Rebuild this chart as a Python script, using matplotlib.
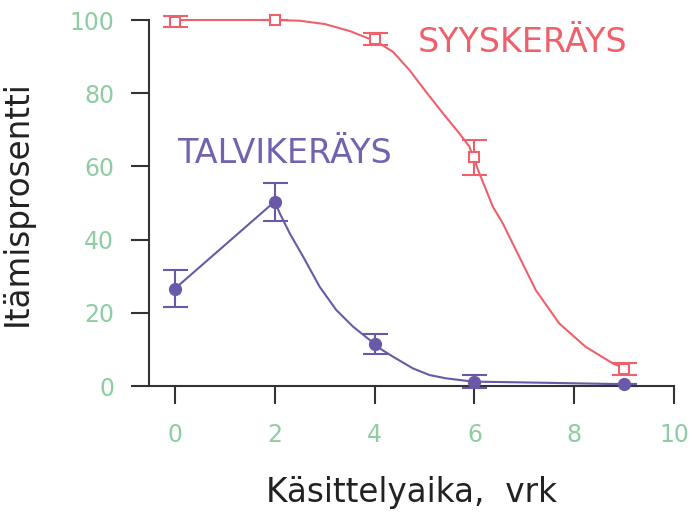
import matplotlib
matplotlib.use("Agg")
import matplotlib.pyplot as plt

plt.rcParams['font.family'] = ['DejaVu Sans']

RED = '#f0606a'
PURPLE = '#6a58a8'
GREEN = '#8ecda2'
DARK = '#333333'

# measured germination, autumn collection
syys_x = [0, 2, 4, 6, 9]
syys_y = [99.5, 100, 94.8, 62.5, 4.7]
syys_err = [1.5, 0, 1.6, 4.8, 1.7]
# fitted curve, autumn collection
syys_cx = [0, 1, 2, 2.5, 3, 3.5, 4, 4.1, 4.37, 4.7, 5.03, 5.37, 5.7, 5.9,
           6.1, 6.37, 6.57, 6.9, 7.23, 7.7, 8.23, 8.77, 9]
syys_cy = [100, 100, 100, 99.8, 98.9, 97.0, 94.3, 93.6, 91.3, 86.3, 80.4, 74.5, 69.0, 65.4,
           58.1, 49.0, 44.4, 35.3, 26.2, 17.1, 10.7, 6.2, 4.9]

# measured germination, winter collection
talvi_x = [0, 2, 4, 6, 9]
talvi_y = [26.6, 50.4, 11.5, 1.2, 0.5]
talvi_err = [5.0, 5.2, 2.8, 1.8, 0]
# fitted curve, winter collection
talvi_cx = [0, 2, 2.1, 2.3, 2.57, 2.9, 3.23, 3.57, 3.9, 4, 4.1, 4.37, 4.77, 5.1, 5.43,
            5.97, 6.9, 9]
talvi_cy = [26.6, 50.4, 47.2, 41.7, 35.3, 27.1, 20.8, 16.2, 12.6, 11.4, 10.3, 8.0, 4.8, 3.0, 2.1,
            1.2, 1.0, 0.5]

fig = plt.figure(figsize=(6.92, 5.13), dpi=100)
ax = fig.add_axes([149/692, 1 - 386/513, 525/692, 366/513])

ax.plot(syys_cx, syys_cy, color=RED, lw=1.5, clip_on=False, zorder=2)
ax.plot(talvi_cx, talvi_cy, color=PURPLE, lw=1.5, clip_on=False, zorder=2)

ax.errorbar(syys_x, syys_y, yerr=syys_err, fmt='s', ms=7, mfc='white', mec=RED, mew=1.5,
            ecolor=RED, elinewidth=1.5, capsize=9, capthick=1.5, clip_on=False, zorder=3)
ax.errorbar(talvi_x, talvi_y, yerr=talvi_err, fmt='o', ms=8.5, mfc=PURPLE, mec=PURPLE,
            ecolor=PURPLE, elinewidth=1.5, capsize=9, capthick=1.5, clip_on=False, zorder=3)

ax.text(4.86, 91.3, 'SYYSKERÄYS', color=RED, fontsize=24, ha='left', va='baseline')
ax.text(0.04, 60.9, 'TALVIKERÄYS', color='#7462b0', fontsize=24, ha='left', va='baseline')

ax.set_xlim(-0.52, 10)
ax.set_ylim(0, 100)
ax.set_xticks([0, 2, 4, 6, 8, 10])
ax.set_yticks([0, 20, 40, 60, 80, 100])

for side in ['top', 'right']:
    ax.spines[side].set_visible(False)
for side in ['left', 'bottom']:
    ax.spines[side].set_color(DARK)
    ax.spines[side].set_linewidth(1.5)
ax.tick_params(direction='out', length=13, width=1.5, color=DARK,
               labelcolor=GREEN, labelsize=17)
ax.tick_params(axis='x', pad=14)
ax.tick_params(axis='y', pad=12)

ax.set_xlabel('Käsittelyaika,  vrk', fontsize=23.5, color='#222222')
ax.set_ylabel('Itämisprosentti', fontsize=23.5, color='#222222')
ax.xaxis.set_label_coords(0.5, -0.245)
ax.yaxis.set_label_coords(-0.219, 0.5)

fig.savefig('out.png', dpi=100)
